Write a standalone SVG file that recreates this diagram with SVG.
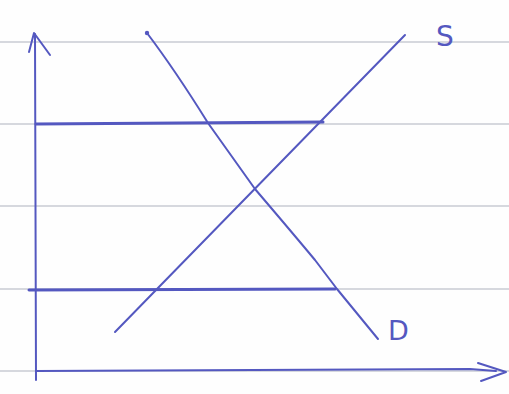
<svg xmlns="http://www.w3.org/2000/svg" width="509" height="394" viewBox="0 0 509 394">
<style>
.rule{stroke:#aeb2bd;stroke-width:1.2;fill:none}
.pen{stroke:#5458c0;stroke-width:2;fill:none;stroke-linecap:round;stroke-linejoin:round}
.thick{stroke-width:3}
.lbl{font-family:"DejaVu Sans","Liberation Sans",sans-serif;fill:#5458c0;font-weight:normal}
</style>
<rect width="509" height="394" fill="#fefefe"/>
<g id="paper">
<line class="rule" x1="0" y1="42" x2="509" y2="42"/>
<line class="rule" x1="0" y1="124" x2="509" y2="124"/>
<line class="rule" x1="0" y1="206" x2="509" y2="206"/>
<line class="rule" x1="0" y1="289" x2="509" y2="289"/>
<line class="rule" x1="0" y1="371" x2="509" y2="371"/>
</g>
<g id="axes">
<path class="pen" d="M36,380 L35,34"/>
<path class="pen" d="M29,52 L34,33 L50,55"/>
<path class="pen" d="M36,371 L470,369 L496,371"/>
<path class="pen" d="M478,363 L506,372 L481,381"/>
</g>
<g id="price-lines">
<path class="pen thick" d="M36,124 L323,122"/>
<path class="pen thick" d="M29,290 L335,289"/>
</g>
<g id="demand">
<path class="pen" d="M147,33 Q175,70 208,123 L255,189 Q290,230 315,260 L337,289 L378,339"/>
<circle cx="147" cy="33" r="2.2" fill="#5458c0"/>
<text class="lbl" x="388" y="340" font-size="27">D</text>
</g>
<g id="supply">
<path class="pen" d="M115,332 L405,35"/>
<text class="lbl" x="436" y="46" font-size="28">S</text>
</g>
</svg>
